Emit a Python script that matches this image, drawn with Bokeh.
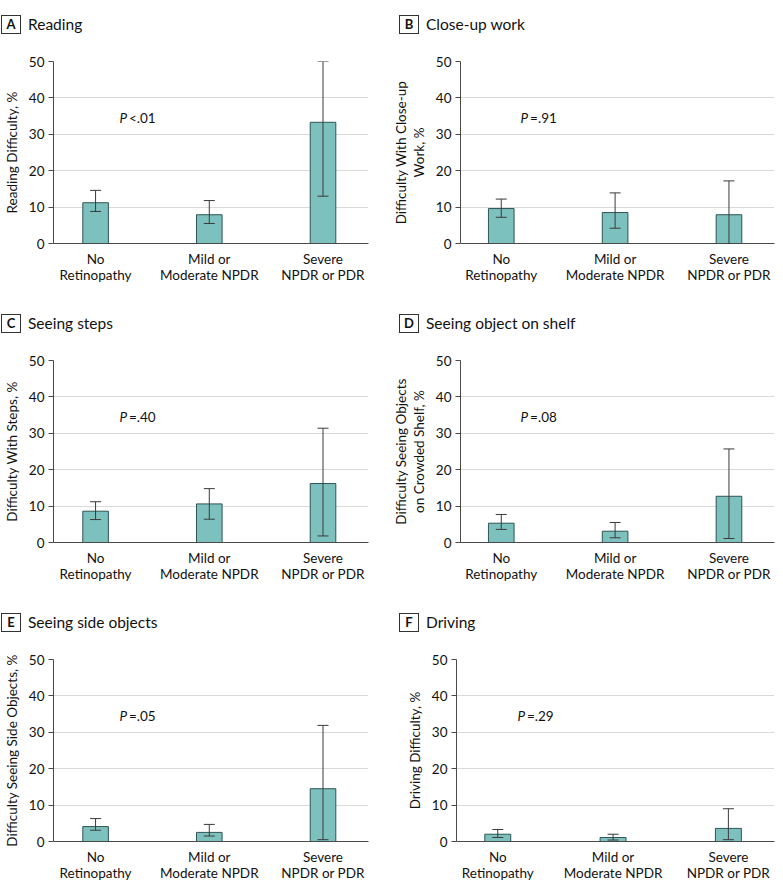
from bokeh.plotting import figure
from bokeh.models import (ColumnDataSource, Range1d, FixedTicker, Whisker, TeeHead, Label, Div)
from bokeh.layouts import column, row
from bokeh.embed import file_html
from bokeh.resources import INLINE

categories = ["No\nRetinopathy", "Mild or\nModerate NPDR", "Severe\nNPDR or PDR"]
letters = ["A", "B", "C", "D", "E", "F"]
titles = ["Reading", "Close-up work", "Seeing steps", "Seeing object on shelf",
          "Seeing side objects", "Driving"]
ylabels = ["Reading Difficulty, %", "Difficulty With Close-up\nWork, %",
           "Difficulty With Steps, %", "Difficulty Seeing Objects\non Crowded Shelf, %",
           "Difficulty Seeing Side Objects, %", "Driving Difficulty, %"]
p_texts = ["<.01", "=.91", "=.40", "=.08", "=.05", "=.29"]

reading = [11.2, 7.9, 33.3]
reading_lo = [8.8, 5.5, 13.0]
reading_hi = [14.6, 11.8, 50.0]

closeup = [9.6, 8.5, 7.9]
closeup_lo = [7.2, 4.2, 0.0]
closeup_hi = [12.2, 13.9, 17.2]

steps = [8.6, 10.6, 16.2]
steps_lo = [6.3, 6.4, 1.8]
steps_hi = [11.2, 14.8, 31.4]

shelf = [5.3, 3.1, 12.7]
shelf_lo = [3.6, 1.3, 1.1]
shelf_hi = [7.7, 5.5, 25.7]

side = [4.1, 2.5, 14.5]
side_lo = [3.1, 1.5, 0.5]
side_hi = [6.3, 4.7, 31.9]

driving = [2.0, 1.1, 3.6]
driving_lo = [1.1, 0.4, 0.5]
driving_hi = [3.3, 2.0, 9.0]

values = [reading, closeup, steps, shelf, side, driving]
lows = [reading_lo, closeup_lo, steps_lo, shelf_lo, side_lo, driving_lo]
highs = [reading_hi, closeup_hi, steps_hi, shelf_hi, side_hi, driving_hi]

FONT = "Lato"
TXT = "#111111"
BAR_FILL = "#7dc1bf"
BAR_LINE = "#2e5453"
ERR = "#3a3a3a"
AXIS = "#4a4a4a"
GRID = "#d9d9d9"
HEAD_H = 38


def make_panel(i, width, height, left_col):
    xs = list(range(len(categories)))
    src = ColumnDataSource(dict(x=xs, top=values[i], lo=lows[i], hi=highs[i]))
    if left_col:
        bl, br = 49, width - 49 - 319
        xr = Range1d(-0.37, 2.40)
        ptx = 0.21
        head_left = 1
    else:
        bl, br = 66, width - 66 - 318
        xr = Range1d(-0.358, 2.40)
        ptx = 0.17
        head_left = 9
    fig_h = height - HEAD_H
    bt = 61 - HEAD_H
    bb = fig_h - bt - 182
    p = figure(width=width, height=fig_h, x_range=xr, y_range=Range1d(0, 50),
               output_backend="svg", toolbar_location=None, tools="",
               min_border_left=bl, min_border_right=br, min_border_top=bt,
               min_border_bottom=bb)
    p.outline_line_color = None
    p.background_fill_color = "white"
    p.border_fill_color = "white"

    p.vbar(x="x", top="top", width=0.225, bottom=0, source=src,
           fill_color=BAR_FILL, line_color=BAR_LINE, line_width=1)
    w = Whisker(base="x", upper="hi", lower="lo", source=src,
                line_color=ERR, line_width=1,
                upper_head=TeeHead(size=11, line_color=ERR, line_width=1),
                lower_head=TeeHead(size=11, line_color=ERR, line_width=1))
    w.level = "overlay"
    p.add_layout(w)

    # axes
    p.xaxis.ticker = FixedTicker(ticks=xs)
    p.xaxis.major_label_overrides = {k: categories[k] for k in xs}
    p.xaxis.major_tick_line_color = None
    p.xaxis.minor_tick_line_color = None
    p.xaxis.axis_line_color = AXIS
    p.xaxis.major_label_text_font = FONT
    p.xaxis.major_label_text_font_size = "13.5px"
    p.xaxis.major_label_text_color = TXT
    p.xaxis.major_label_standoff = 1
    p.xaxis.major_label_text_line_height = 1.0

    p.yaxis.ticker = FixedTicker(ticks=[0, 10, 20, 30, 40, 50])
    p.yaxis.minor_tick_line_color = None
    p.yaxis.major_tick_out = 5
    p.yaxis.major_tick_in = 0
    p.yaxis.major_tick_line_color = AXIS
    p.yaxis.axis_line_color = AXIS
    p.yaxis.major_label_text_font = FONT
    p.yaxis.major_label_text_font_size = "13.5px"
    p.yaxis.major_label_text_color = TXT
    p.yaxis.major_label_standoff = 4
    p.yaxis.axis_label = ylabels[i]
    p.yaxis.axis_label_text_font = FONT
    p.yaxis.axis_label_text_font_size = "13.5px"
    p.yaxis.axis_label_text_font_style = "normal"
    p.yaxis.axis_label_text_color = TXT
    p.yaxis.axis_label_standoff = 6
    p.yaxis.axis_label_text_line_height = 1.1

    p.xgrid.grid_line_color = None
    p.ygrid.grid_line_color = GRID
    p.ygrid.grid_line_width = 1

    # P value
    p.add_layout(Label(x=ptx, y=34.5, text="P", text_font=FONT, text_font_size="13.5px",
                       text_font_style="italic", text_color=TXT, text_baseline="middle",
                       text_align="left"))
    p.add_layout(Label(x=ptx, y=34.5, x_offset=9.5, text=p_texts[i], text_font=FONT,
                       text_font_size="13.5px", text_color=TXT, text_baseline="middle",
                       text_align="left"))

    # panel letter box and title
    head = Div(
        text=(f'<div style="display:flex;align-items:center;height:20px;margin-top:14px;'
              f'font-family:{FONT};font-size:15.5px;color:{TXT};white-space:nowrap;">'
              f'<span style="display:inline-block;box-sizing:border-box;width:20px;height:19px;'
              f'line-height:17px;border:1px solid #333;text-align:center;font-weight:bold;'
              f'font-size:13px;margin-left:{head_left}px;margin-right:7px;">{letters[i]}</span>'
              f'{titles[i]}</div>'),
        width=width, height=HEAD_H, margin=(0, 0, 0, 0))
    return column(head, p, spacing=0)


panels = []
heights = [299, 299, 293]
for r in range(3):
    pl = make_panel(2 * r, 390, heights[r], True)
    pr = make_panel(2 * r + 1, 393, heights[r], False)
    panels.append(row(pl, pr, spacing=0))

layout = column(*panels, spacing=0)
open("out.html", "w").write(file_html(layout, INLINE))
